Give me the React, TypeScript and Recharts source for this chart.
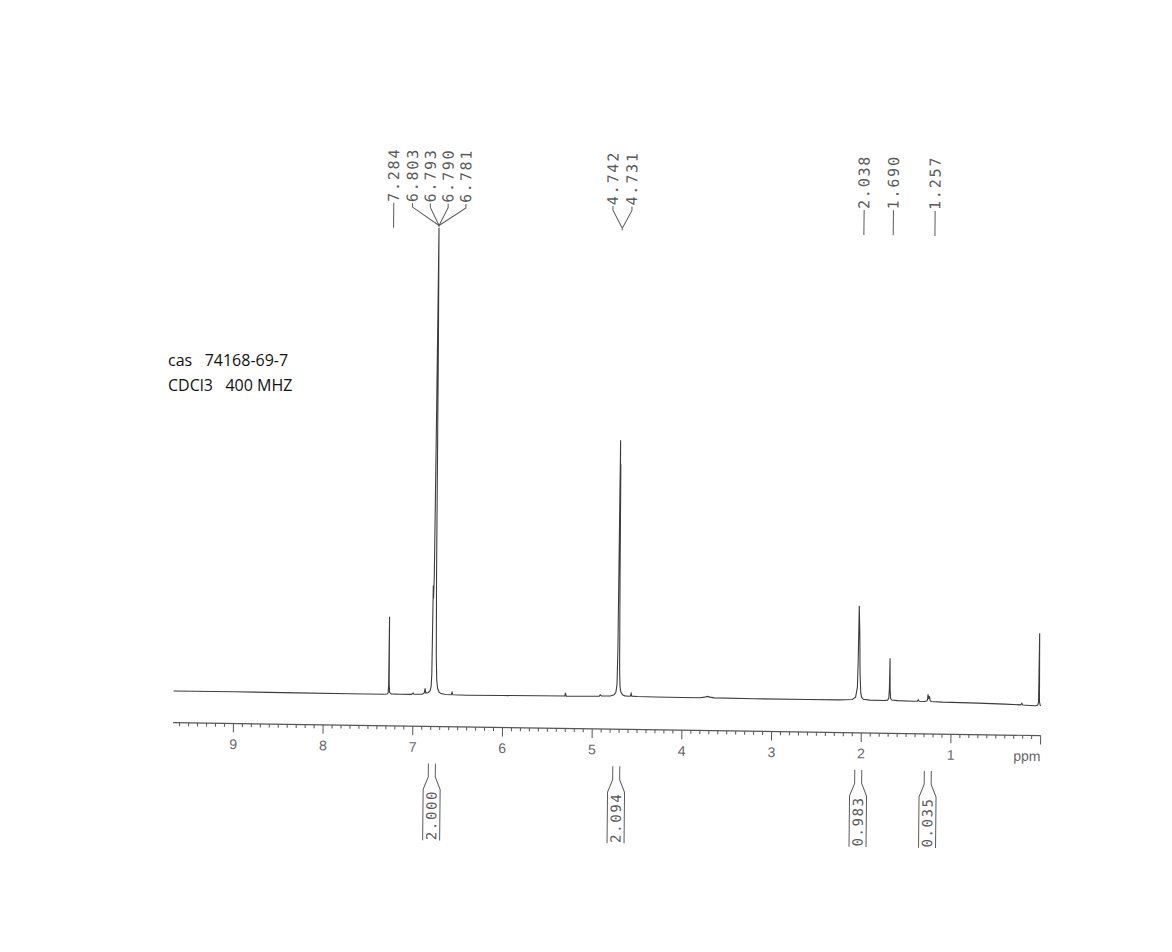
import React from 'react';
import { LineChart, Line, XAxis, YAxis, ReferenceDot } from 'recharts';

// ---- axis ranges ----
const PPM_MAX = 9.673;
const INTENSITY_MAX = 520;

// ---- spectrum trace: [ppm, intensity] ----
const traceDownfield: [number, number][] = [
  [9.673, 31.6], [9.0, 31.7], [8.3, 31.6], [7.7, 31.5], [7.33, 31.5],
  [7.29, 31.8], [7.279, 33], [7.274, 40], [7.271, 109], [7.268, 42], [7.263, 33.5], [7.245, 32], [7.15, 31.7],
  [7.02, 31.8], [7.0, 33.2], [6.99, 31.9], [6.9, 32], [6.876, 33.5], [6.867, 38], [6.86, 33.5], [6.845, 33.5],
];
const traceAromatic: [number, number][] = [
  [6.83, 34], [6.81, 36], [6.8, 40], [6.794, 52], [6.79, 100], [6.787, 141], [6.783, 128],
  [6.777, 150], [6.77, 300], [6.763, 498.6], [6.757, 380], [6.752, 150], [6.746, 70], [6.738, 46],
  [6.728, 38], [6.71, 34.5], [6.69, 33], [6.64, 32.2], [6.575, 32], [6.566, 34.5], [6.557, 32],
  [6.4, 31.8], [6.0, 32], [5.6, 32.3], [5.31, 32.4], [5.302, 35.5], [5.294, 32.4], [5.0, 32.6],
  [4.925, 32.8], [4.913, 34.2], [4.9, 33],
];
const traceMethylene: [number, number][] = [
  [4.8, 33.2], [4.76, 34.5], [4.74, 37], [4.728, 45], [4.722, 80], [4.718, 200], [4.715, 289],
  [4.712, 230], [4.71, 265], [4.706, 150], [4.701, 60], [4.694, 42], [4.684, 37], [4.665, 34.5],
  [4.64, 33.5], [4.59, 33.2], [4.577, 33.5], [4.57, 36], [4.562, 33.3], [4.5, 33],
];
const traceMidfield: [number, number][] = [
  [4.3, 32.9], [4.0, 32.8], [3.8, 32.8], [3.75, 33.4], [3.72, 34.2], [3.69, 33.5], [3.64, 32.8],
  [3.2, 32.6], [2.6, 32.6], [2.25, 32.7], [2.18, 32.9], [2.104, 33.3], [2.067, 35.7], [2.048, 45.7],
  [2.042, 72], [2.036, 127.2], [2.027, 100], [2.02, 60], [2.01, 40], [1.999, 35.5], [1.981, 33.6],
  [1.906, 32.9],
];
const traceUpfield: [number, number][] = [
  [1.75, 32.8], [1.71, 33.2], [1.697, 35], [1.691, 45], [1.687, 75], [1.683, 44], [1.677, 35],
  [1.665, 33.3], [1.6, 32.8], [1.42, 32.4], [1.378, 32.6], [1.368, 34], [1.358, 32.6], [1.3, 32.3],
  [1.27, 33], [1.264, 35], [1.26, 39.7], [1.252, 35], [1.243, 37.7], [1.236, 33.5], [1.225, 32.5],
  [1.1, 32], [0.7, 31.5], [0.4, 31], [0.225, 30.5], [0.213, 32], [0.203, 30.3], [0.12, 30],
  [0.06, 29.8], [0.035, 30.5], [0.027, 34], [0.022, 102.3], [0.017, 34], [0.008, 30.2], [0, 30],
];

// ---- peak labels ----
const peakLabelGroups: string[][] = [
  ['7.284'],
  ['6.803', '6.793', '6.790', '6.781'],
  ['4.742', '4.731'],
  ['2.038'],
  ['1.690'],
  ['1.257'],
];
const peakLabelAnchors = [7.27, 6.763, 4.72, 2.026, 1.699, 1.234];
const PEAK_LABEL_LEVEL = 500;

// ---- integrals ----
const integralLabels = ['2.000', '2.094', '0.983', '0.035'];
const integralCenters = [6.783, 4.727, 2.029, 1.254];

// ---- axis ticks ----
const axisMajorValues = [9, 8, 7, 6, 5, 4, 3, 2, 1, 0];
const axisMajorLabels = ['9', '8', '7', '6', '5', '4', '3', '2', '1', 'ppm'];
const axisTicks = Array.from({ length: 97 }, (_, i) => i / 10);

// ---- annotation text ----
const infoLines = ['cas   74168-69-7', 'CDCl3   400 MHZ'];

const spectrum = [
  ...traceDownfield,
  ...traceAromatic,
  ...traceMethylene,
  ...traceMidfield,
  ...traceUpfield,
].map(([ppm, v]) => ({ ppm, v }));

const INK = '#3c3c3c';
const TEXT_INK = '#5a5a5a';
const MONO = "'DejaVu Sans Mono', 'Liberation Mono', monospace";

const AxisTick = (props: any) => {
  const { x, y, payload } = props;
  const v = payload.value;
  const idx = axisMajorValues.findIndex((m) => Math.abs(m - v) < 1e-6);
  const major = idx >= 0;
  return (
    <g>
      <line x1={x} x2={x} y1={y} y2={y + (major ? 9 : 3.5)} stroke="#555" strokeWidth={1} />
      {major && (
        <text
          x={x}
          y={y + 25.5}
          textAnchor={v === 0 ? 'end' : 'middle'}
          fontSize={14}
          fill="#666"
          fontFamily="'Liberation Sans', Arial, sans-serif"
        >
          {axisMajorLabels[idx]}
        </text>
      )}
    </g>
  );
};

const PeakLabelShape = (props: any) => {
  const { cx, cy, labels } = props;
  const n = labels.length;
  const spacing = n > 2 ? 17.8 : 19;
  const textBottom = cy - 24;
  const items: React.ReactNode[] = [];
  if (n === 1) {
    items.push(<line key="l" x1={cx} x2={cx} y1={cy - 23} y2={cy + 2} stroke={TEXT_INK} strokeWidth={1} />);
  } else {
    items.push(<line key="c" x1={cx} x2={cx} y1={cy - 1} y2={cy + 1} stroke={TEXT_INK} strokeWidth={1} />);
  }
  labels.forEach((lab: string, i: number) => {
    const colX = n === 1 ? cx : cx + (i - (n - 1) / 2) * spacing;
    if (n > 1) {
      items.push(
        <path
          key={'p' + i}
          d={`M${colX},${cy - 23} L${colX},${cy - 19} L${cx},${cy - 1}`}
          fill="none"
          stroke={TEXT_INK}
          strokeWidth={1}
        />
      );
    }
    items.push(
      <text
        key={'t' + i}
        transform={`translate(${colX},${textBottom}) rotate(-90)`}
        textAnchor="start"
        dominantBaseline="central"
        fontSize={15}
        fontFamily={MONO}
        fill={TEXT_INK}
        style={{ letterSpacing: '1.8px' }}
      >
        {lab}
      </text>
    );
  });
  return <g>{items}</g>;
};

const IntegralShape = (props: any) => {
  const { cx, cy, label } = props;
  const top = cy + 37;
  const knee = cy + 50.5;
  const flare = cy + 63;
  const bottom = cy + 114;
  const s = 3.5;
  const w = 8.5;
  const d = `M${cx - s},${top} L${cx - s},${knee} L${cx - w},${flare} L${cx - w},${bottom} M${cx + s},${top} L${cx + s},${knee} L${cx + w},${flare} L${cx + w},${bottom}`;
  return (
    <g>
      <path d={d} fill="none" stroke={TEXT_INK} strokeWidth={1} />
      <text
        transform={`translate(${cx},${(flare + bottom) / 2}) rotate(-90)`}
        textAnchor="middle"
        dominantBaseline="central"
        fontSize={14}
        fontFamily={MONO}
        fill={TEXT_INK}
        style={{ letterSpacing: '1.6px' }}
      >
        {label}
      </text>
    </g>
  );
};

export default function App() {
  return (
    <div style={{ position: 'absolute', left: 0, top: 0, width: 1172, height: 952, background: '#fff' }}>
      <div
        style={{
          position: 'absolute',
          left: 0,
          top: 0,
          width: 1172,
          height: 952,
          transform: 'skewX(-0.57deg) skewY(0.86deg)',
          transformOrigin: '600px 729px',
        }}
      >
        <LineChart
          width={1172}
          height={952}
          data={spectrum}
          margin={{ top: 209, right: 131.3, bottom: 193, left: 173 }}
        >
          <XAxis
            dataKey="ppm"
            type="number"
            domain={[0, PPM_MAX]}
            allowDataOverflow
            reversed
            ticks={axisTicks}
            interval={0}
            tick={<AxisTick />}
            tickLine={false}
            tickSize={0}
            tickMargin={0}
            height={30}
            axisLine={{ stroke: '#555', strokeWidth: 1.2 }}
          />
          <YAxis hide type="number" domain={[0, INTENSITY_MAX]} allowDataOverflow />
          <Line
            type="linear"
            dataKey="v"
            stroke={INK}
            strokeWidth={1.1}
            dot={false}
            activeDot={false}
            isAnimationActive={false}
          />
          {peakLabelGroups.map((labels, i) => (
            <ReferenceDot
              key={'pl' + i}
              x={peakLabelAnchors[i]}
              y={PEAK_LABEL_LEVEL}
              ifOverflow="visible"
              shape={(p: any) => <PeakLabelShape {...p} labels={labels} />}
            />
          ))}
          {integralLabels.map((lab, i) => (
            <ReferenceDot
              key={'in' + i}
              x={integralCenters[i]}
              y={0}
              ifOverflow="visible"
              shape={(p: any) => <IntegralShape {...p} label={lab} />}
            />
          ))}
        </LineChart>
      </div>
      <div
        style={{
          position: 'absolute',
          left: 168,
          top: 348,
          fontFamily: "'Open Sans', 'Noto Sans', sans-serif",
          fontSize: 16,
          lineHeight: '25px',
          whiteSpace: 'pre',
          color: '#111',
        }}
      >
        {infoLines.map((t, i) => (
          <div key={i}>{t}</div>
        ))}
      </div>
    </div>
  );
}
